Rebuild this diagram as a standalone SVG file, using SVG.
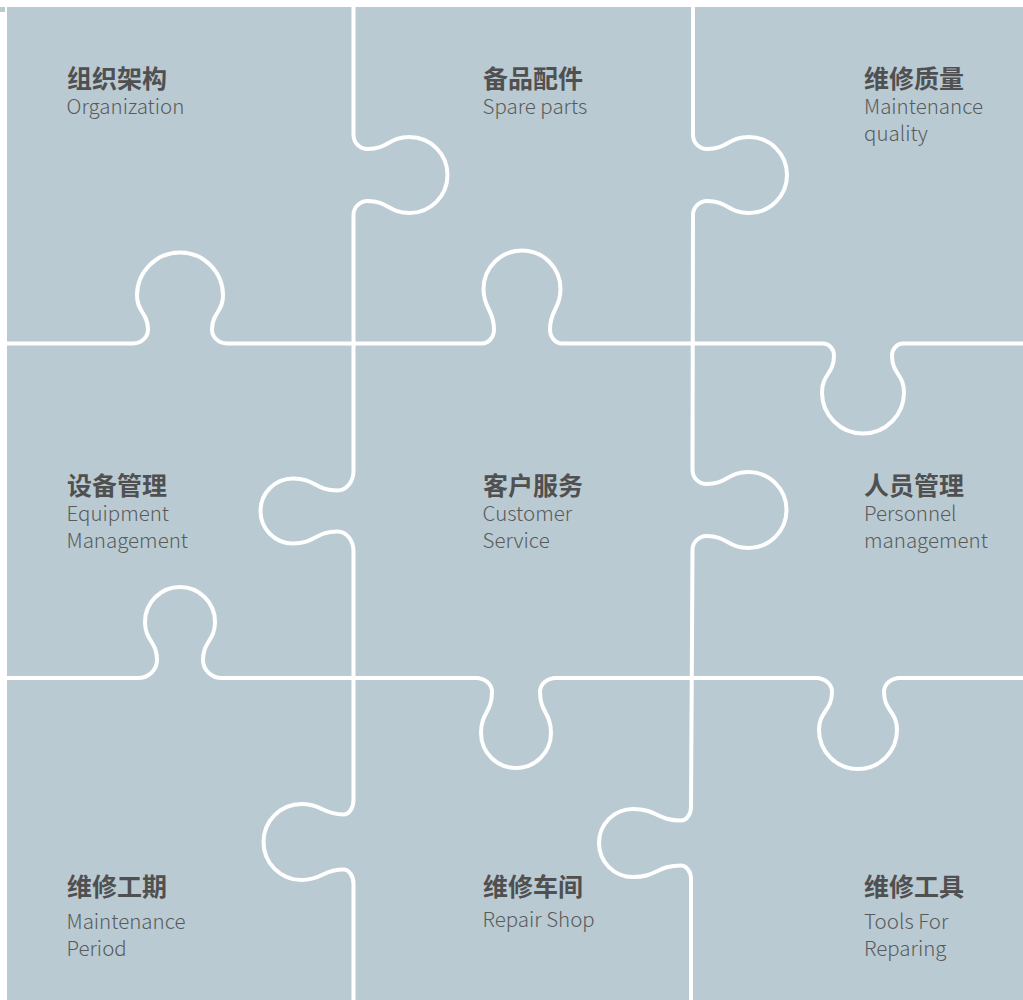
<svg xmlns="http://www.w3.org/2000/svg" width="1023" height="1000" viewBox="0 0 1023 1000">
<style>
.board{fill:#b9cad3}
.cut{fill:none;stroke:#ffffff;stroke-width:4;stroke-linejoin:round;stroke-linecap:butt}
.zh{font-family:"Noto Sans CJK SC","Noto Sans",sans-serif;font-size:25px;font-weight:700;fill:#505050}
.en{font-family:"Noto Sans CJK SC","Noto Sans",sans-serif;font-size:20.5px;font-weight:300;fill:#5a5a5a}
</style>
<rect x="0" y="0" width="1023" height="1000" fill="#ffffff"/>
<g id="board">
<rect class="board" x="7" y="7" width="1016" height="993"/>
<rect class="board" x="0" y="7" width="5" height="5"/>
</g>
<g id="connectors">
<path class="cut" d="M 0 343.5 L 133 343.5 C 141.25 343.5 148 337.2 148 329.5 C 148 312.5 137 312.5 137 295.5 A 43 43 0 0 1 223 295.5 C 223 312.5 212 312.5 212 329.5 C 212 337.2 218.75 343.5 227 343.5 L 482 343.5 C 488.6 343.5 494 337.2 494 329.5 C 494 309.25 483.5 309.25 483.5 289 A 38.5 38.5 0 0 1 560.5 289 C 560.5 309.25 550 309.25 550 329.5 C 550 337.2 555.4 343.5 562 343.5 L 823 343.5 C 829.05 343.5 834 348.9 834 355.5 C 834 374 822 374 822 392.5 A 41 41 0 0 0 904 392.5 C 904 374 892 374 892 355.5 C 892 348.9 896.950 343.5 903 343.5 L 1023 343.5"/>
<path class="cut" d="M 0 678 L 138 678 C 148.45 678 157 669.9 157 660 C 157 641 145 641 145 622 A 35 35 0 0 1 215 622 C 215 641 203 641 203 660 C 203 669.9 211.55 678 222 678 L 476 678 C 484.8 678 492 684.3 492 692 C 492 712.5 481 712.5 481 733 A 35 35 0 0 0 551 733 C 551 712.5 540 712.5 540 692 C 540 684.3 547.2 678 556 678 L 816 678 C 824.8 678 832 684.3 832 692 C 832 711 819 711 819 730 A 39 39 0 0 0 897 730 C 897 711 884 711 884 692 C 884 684.3 891.2 678 900 678 L 1023 678"/>
<path class="cut" d="M 353.5 7 L 353.5 135 C 353.5 142.7 359.8 149 367.5 149 C 388.5 149 388.5 137 409.5 137 A 38 38 0 0 1 409.5 213 C 388.5 213 388.5 201 367.5 201 C 359.8 201 353.5 207.3 353.5 215 L 353.5 471 C 353.5 481.7 346.3 490.5 337.5 490.5 C 315.25 490.5 315.25 478.5 293 478.5 A 32.5 32.5 0 0 0 293 543.5 C 315.25 543.5 315.25 531.5 337.5 531.5 C 346.3 531.5 353.5 540.3 353.5 551 L 353.5 800 C 353.5 807.975 349 814.5 343.5 814.5 C 322.5 814.5 322.5 804 301.5 804 A 38 38 0 0 0 301.5 880 C 322.5 880 322.5 869.5 343.5 869.5 C 349 869.5 353.5 876.025 353.5 884 L 353.5 1000"/>
<path class="cut" d="M 693 7 L 693 135 C 693 142.7 699.3 149 707 149 C 728 149 728 137 749 137 A 38 38 0 0 1 749 213 C 728 213 728 201 707 201 C 699.3 201 693 207.3 693 215 L 692.5 470 C 692.5 477.7 698.8 484 706.5 484 C 727.5 484 727.5 472 748.5 472 A 38 38 0 0 1 748.5 548 C 727.5 548 727.5 536 706.5 536 C 698.8 536 692.5 542.3 692.5 550 L 691 807 C 691 814.425 686.5 820.5 681 820.5 C 657 820.5 657 809 633 809 A 34 34 0 0 0 633 877 C 657 877 657 865.5 681 865.5 C 686.5 865.5 691 871.575 691 879 L 691 1000"/>
</g>
<g id="piece-organization">
<text class="zh" x="67" y="88">组织架构</text>
<text class="en" x="66.5" y="113.5">Organization</text>
</g>
<g id="piece-spare-parts">
<text class="zh" x="483" y="88">备品配件</text>
<text class="en" x="482.5" y="113.5">Spare parts</text>
</g>
<g id="piece-maintenance-quality">
<text class="zh" x="864" y="88">维修质量</text>
<text class="en" x="864" y="113.5">Maintenance</text>
<text class="en" x="864" y="140.5">quality</text>
</g>
<g id="piece-equipment-management">
<text class="zh" x="67" y="495">设备管理</text>
<text class="en" x="66.5" y="521">Equipment</text>
<text class="en" x="66.5" y="548">Management</text>
</g>
<g id="piece-customer-service">
<text class="zh" x="483" y="495">客户服务</text>
<text class="en" x="482.5" y="521">Customer</text>
<text class="en" x="482.5" y="548">Service</text>
</g>
<g id="piece-personnel-management">
<text class="zh" x="864" y="495">人员管理</text>
<text class="en" x="864" y="521">Personnel</text>
<text class="en" x="864" y="548">management</text>
</g>
<g id="piece-maintenance-period">
<text class="zh" x="67" y="896">维修工期</text>
<text class="en" x="66.5" y="929">Maintenance</text>
<text class="en" x="66.5" y="956">Period</text>
</g>
<g id="piece-repair-shop">
<text class="zh" x="483" y="896">维修车间</text>
<text class="en" x="482.5" y="927">Repair Shop</text>
</g>
<g id="piece-tools">
<text class="zh" x="864" y="896">维修工具</text>
<text class="en" x="864" y="929">Tools For</text>
<text class="en" x="864" y="956">Reparing</text>
</g>
</svg>
